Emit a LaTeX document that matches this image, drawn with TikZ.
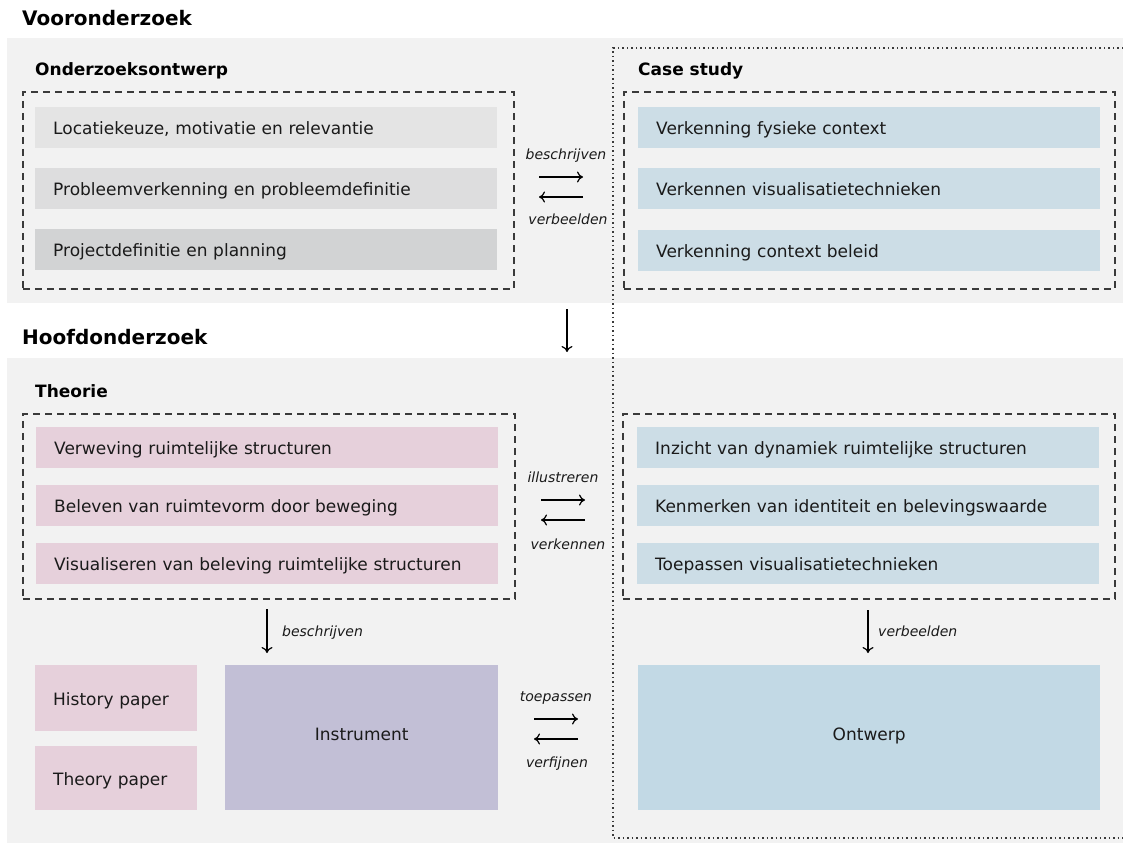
\documentclass[tikz,border=0pt]{standalone}
\usepackage{fontspec}
\setmainfont{DejaVu Sans}
\usetikzlibrary{arrows.meta}
\definecolor{panelgray}{HTML}{F2F2F2}
\definecolor{gA}{HTML}{E4E4E4}
\definecolor{gB}{HTML}{DDDDDE}
\definecolor{gC}{HTML}{D2D3D4}
\definecolor{blueitem}{HTML}{CCDDE6}
\definecolor{pinkitem}{HTML}{E6D0DB}
\definecolor{lavender}{HTML}{C2BFD6}
\definecolor{bluebig}{HTML}{C2D9E5}
\definecolor{txt}{HTML}{1A1A1A}
\definecolor{dashcol}{HTML}{3A3A3A}
\tikzset{
  panel/.style={anchor=north west, fill=panelgray, draw=none, inner sep=0pt},
  titletext/.style={anchor=base west, inner sep=0pt, font=\bfseries\fontsize{20}{24}\selectfont, text=black},
  sectext/.style={anchor=base west, inner sep=0pt, font=\bfseries\fontsize{17}{20}\selectfont, text=black},
  item/.style={anchor=north west, draw=none, minimum height=41pt, text width=426pt, inner xsep=18pt, inner ysep=0pt, align=left, text height=14pt, text depth=0pt, font=\fontsize{17}{20}\selectfont, text=txt},
  paper/.style={item, text width=126pt, fill=pinkitem},
  bigbox/.style={anchor=north west, draw=none, inner sep=0pt, align=center, text height=6pt, text depth=0pt, font=\fontsize{17}{20}\selectfont, text=txt},
  dashbox/.style={anchor=north west, draw=dashcol, line width=1.5pt, dash pattern=on 7pt off 5pt, inner sep=0pt, fill=none},
  dotline/.style={draw=dashcol, line width=1.5pt, dash pattern=on 1.5pt off 3pt},
  lbl/.style={anchor=base, inner sep=0pt, font=\itshape\fontsize{14}{17}\selectfont, text=txt},
  arr/.style={-{To[length=6pt,width=11pt]}, line width=1.2pt, draw=black},
}
\begin{document}
\begin{tikzpicture}[x=1pt,y=-1pt]
\useasboundingbox (0,0) rectangle (1123,843);
\fill[white] (0,0) rectangle (1123,843);

% panels
\node[panel, minimum width=1116pt, minimum height=265pt] (p1) at (7,38) {};
\node[panel, minimum width=1116pt, minimum height=485pt] (p2) at (7,358) {};

% titles
\node[titletext] (t1) at (22,26) {Vooronderzoek};
\node[titletext] (t2) at (22,344) {Hoofdonderzoek};
\node[sectext] (s1) at (35,75) {Onderzoeksontwerp};
\node[sectext] (s2) at (638,75) {Case study};
\node[sectext] (s3) at (35,397) {Theorie};

% dotted case study frame
\coordinate (dtr) at (1123,48);
\coordinate (dtl) at (613,48);
\coordinate (dbl) at (613,838);
\coordinate (dbr) at (1123,838);
\draw[dotline] (dtr) -- (dtl) -- (dbl) -- (dbr);

% dashed frames
\node[dashbox, minimum width=491pt, minimum height=197pt] (d1) at (22,91) {};
\node[dashbox, minimum width=491pt, minimum height=197pt] (d2) at (623,91) {};
\node[dashbox, minimum width=492pt, minimum height=185pt] (d3) at (22,413) {};
\node[dashbox, minimum width=492pt, minimum height=185pt] (d4) at (622,413) {};

% Onderzoeksontwerp items
\node[item, fill=gA] (o1) at (35,107) {Locatiekeuze, motivatie en relevantie};
\node[item, fill=gB] (o2) at (35,168) {Probleemverkenning en probleemdefinitie};
\node[item, fill=gC] (o3) at (35,229) {Projectdefinitie en planning};

% Case study items
\node[item, fill=blueitem] (c1) at (638,107) {Verkenning fysieke context};
\node[item, fill=blueitem] (c2) at (638,168) {Verkennen visualisatietechnieken};
\node[item, fill=blueitem] (c3) at (638,230) {Verkenning context beleid};

% Theorie items
\node[item, fill=pinkitem] (th1) at (36,427) {Verweving ruimtelijke structuren};
\node[item, fill=pinkitem] (th2) at (36,485) {Beleven van ruimtevorm door beweging};
\node[item, fill=pinkitem] (th3) at (36,543) {Visualiseren van beleving ruimtelijke structuren};

% Case items lower
\node[item, fill=blueitem] (k1) at (637,427) {Inzicht van dynamiek ruimtelijke structuren};
\node[item, fill=blueitem] (k2) at (637,485) {Kenmerken van identiteit en belevingswaarde};
\node[item, fill=blueitem] (k3) at (637,543) {Toepassen visualisatietechnieken};

% bottom boxes
\node[paper, minimum height=66pt] (hp) at (35,665) {History paper};
\node[paper, minimum height=64pt] (tp) at (35,746) {Theory paper};
\node[bigbox, fill=lavender, minimum width=273pt, minimum height=145pt] (ins) at (225,665) {Instrument};
\node[bigbox, fill=bluebig, minimum width=462pt, minimum height=145pt] (ont) at (638,665) {Ontwerp};

% horizontal arrow pairs
\coordinate (a1s) at (539,177); \coordinate (a1e) at (583,177);
\coordinate (a2s) at (583,197); \coordinate (a2e) at (539,197);
\draw[arr] (a1s) -- (a1e);
\draw[arr] (a2s) -- (a2e);
\node[lbl] (l1) at (566,159.5) {beschrijven};
\node[lbl] (l2) at (568,224) {verbeelden};

\coordinate (b1s) at (541,500); \coordinate (b1e) at (585,500);
\coordinate (b2s) at (585,520); \coordinate (b2e) at (541,520);
\draw[arr] (b1s) -- (b1e);
\draw[arr] (b2s) -- (b2e);
\node[lbl] (l3) at (563,482.5) {illustreren};
\node[lbl] (l4) at (568,549) {verkennen};

\coordinate (c1s) at (534,719); \coordinate (c1e) at (578,719);
\coordinate (c2s) at (578,739); \coordinate (c2e) at (534,739);
\draw[arr] (c1s) -- (c1e);
\draw[arr] (c2s) -- (c2e);
\node[lbl] (l5) at (556,701) {toepassen};
\node[lbl] (l6) at (557,767.5) {verfijnen};

% vertical arrows
\coordinate (v1s) at (567,309); \coordinate (v1e) at (567,352);
\draw[arr] (v1s) -- (v1e);
\coordinate (v2s) at (267,609); \coordinate (v2e) at (267,653);
\draw[arr] (v2s) -- (v2e);
\node[lbl, anchor=base west] (l7) at (282,636) {beschrijven};
\coordinate (v3s) at (868,610); \coordinate (v3e) at (868,653);
\draw[arr] (v3s) -- (v3e);
\node[lbl, anchor=base west] (l8) at (878,636) {verbeelden};
\end{tikzpicture}
\end{document}
